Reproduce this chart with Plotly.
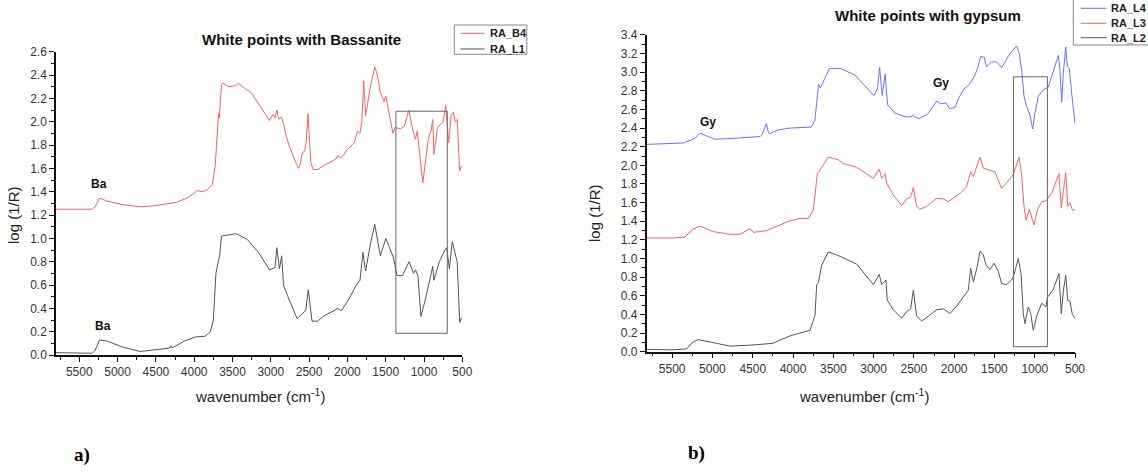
import plotly.graph_objects as go

# ---------------- data: panel a (White points with Bassanite) ----------------
wn_b4 = [5804, 5600, 5450, 5331, 5293, 5235, 5139, 4946, 4705, 4512, 4223, 4078, 3957, 3909, 3837, 3764,
         3726, 3702, 3692, 3682, 3673, 3644, 3629, 3547, 3451, 3427, 3330, 3258, 3137, 3017, 2969, 2945,
         2921, 2896, 2863, 2834, 2800, 2752, 2679, 2641, 2621, 2593, 2554, 2535, 2515, 2496, 2477, 2448,
         2390, 2294, 2149, 2125, 2077, 2004, 1908, 1869, 1836, 1811, 1787, 1763, 1700, 1643, 1609, 1570,
         1522, 1498, 1450, 1406, 1377, 1305, 1257, 1199, 1146, 1112, 1088, 1016, 944, 905, 886, 871, 823,
         751, 717, 678, 645, 616, 592, 567, 534, 510]
ra_b4 = [1.25, 1.252, 1.25, 1.25, 1.27, 1.345, 1.32, 1.29, 1.27, 1.28, 1.31, 1.35, 1.41, 1.40, 1.41, 1.46,
         1.62, 1.90, 2.02, 2.07, 2.03, 2.31, 2.33, 2.30, 2.31, 2.33, 2.28, 2.25, 2.13, 2.01, 2.06, 2.03,
         2.10, 2.02, 2.04, 1.99, 1.875, 1.78, 1.66, 1.60, 1.62, 1.72, 1.76, 1.85, 2.07, 1.85, 1.65, 1.59,
         1.59, 1.63, 1.68, 1.71, 1.69, 1.76, 1.82, 1.92, 1.90, 2.00, 2.35, 2.05, 2.30, 2.47, 2.40, 2.25,
         2.17, 2.22, 2.05, 1.90, 1.95, 1.94, 1.96, 2.10, 1.93, 1.85, 1.92, 1.475, 1.85, 1.93, 2.02, 1.72, 1.95,
         2.00, 2.14, 1.82, 2.05, 2.08, 2.00, 2.02, 1.58, 1.62]

wn_l1 = [5804, 5600, 5450, 5331, 5293, 5235, 5139, 4946, 4705, 4512, 4319, 4304, 4290, 4126, 3981, 3861,
         3789, 3750, 3716, 3692, 3668, 3644, 3451, 3306, 3162, 3017, 2945, 2921, 2887, 2858, 2834, 2776,
         2655, 2583, 2544, 2511, 2462, 2390, 2294, 2173, 2135, 2077, 1980, 1884, 1836, 1797, 1763, 1700,
         1643, 1570, 1498, 1450, 1401, 1353, 1281, 1194, 1136, 1112, 1079, 1040, 992, 919, 886, 871, 799,
         727, 703, 669, 631, 597, 567, 534, 510]
ra_l1 = [0.02, 0.018, 0.015, 0.015, 0.04, 0.13, 0.12, 0.07, 0.03, 0.045, 0.06, 0.08, 0.06, 0.12, 0.155, 0.16,
         0.20, 0.30, 0.70, 0.78, 0.85, 1.02, 1.04, 0.99, 0.88, 0.73, 0.75, 0.92, 0.74, 0.85, 0.60, 0.50,
         0.31, 0.36, 0.38, 0.56, 0.29, 0.29, 0.34, 0.38, 0.40, 0.38, 0.48, 0.60, 0.64, 0.88, 0.72, 0.95,
         1.12, 0.85, 1.00, 0.92, 0.84, 0.68, 0.68, 0.80, 0.70, 0.73, 0.68, 0.33, 0.45, 0.66, 0.76, 0.64, 0.80,
         0.90, 0.92, 0.74, 0.97, 0.88, 0.80, 0.28, 0.32]

# ---------------- data: panel b (White points with gypsum) ----------------
wn_l4 = [5816, 5600, 5355, 5220, 5152, 5084, 4971, 4723, 4406, 4384, 4361, 4330, 4307, 4294, 4181, 4045,
         3774, 3729, 3697, 3684, 3661, 3548, 3413, 3232, 3051, 2997, 2952, 2925, 2893, 2857, 2826, 2735,
         2600, 2532, 2518, 2442, 2329, 2216, 2171, 2103, 2058, 1990, 1945, 1877, 1809, 1741, 1705, 1671,
         1629, 1596, 1534, 1472, 1410, 1307, 1224, 1192, 1162, 1133, 1100, 1059, 1025, 997, 956, 894, 832,
         777, 707, 686, 665, 645, 615, 596, 571, 541, 500]
ra_l4 = [2.225, 2.23, 2.24, 2.29, 2.345, 2.32, 2.28, 2.29, 2.31, 2.33, 2.38, 2.45, 2.36, 2.34, 2.38, 2.40,
         2.41, 2.48, 2.75, 2.87, 2.83, 3.04, 3.04, 2.97, 2.80, 2.75, 2.82, 3.05, 2.75, 2.98, 2.65, 2.56,
         2.52, 2.52, 2.54, 2.50, 2.55, 2.69, 2.66, 2.67, 2.61, 2.62, 2.72, 2.82, 2.87, 2.97, 3.05, 3.17,
         3.16, 3.06, 3.11, 3.11, 3.05, 3.20, 3.28, 3.20, 3.02, 2.74, 2.63, 2.54, 2.39, 2.56, 2.74, 2.81, 2.84,
         3.00, 3.18, 3.02, 2.68, 2.99, 3.27, 3.06, 3.04, 2.77, 2.45]

wn_l3 = [5816, 5500, 5341, 5250, 5154, 5000, 4782, 4658, 4534, 4493, 4327, 4162, 4037, 3913, 3810, 3748,
         3698, 3665, 3562, 3438, 3376, 3210, 3003, 2929, 2900, 2858, 2837, 2755, 2652, 2589, 2540, 2507,
         2465, 2424, 2341, 2217, 2134, 2073, 1927, 1845, 1795, 1762, 1720, 1679, 1638, 1576, 1493, 1410,
         1348, 1266, 1195, 1162, 1133, 1108, 1067, 1038, 1009, 968, 913, 860, 789, 699, 670, 645, 615, 590,
         562, 533, 500]
ra_l3 = [1.22, 1.22, 1.23, 1.31, 1.35, 1.29, 1.26, 1.26, 1.32, 1.28, 1.30, 1.36, 1.405, 1.43, 1.43, 1.52,
         1.91, 1.95, 2.09, 2.06, 2.02, 1.98, 1.86, 1.96, 1.86, 1.91, 1.81, 1.68, 1.57, 1.64, 1.66, 1.76,
         1.56, 1.53, 1.56, 1.645, 1.64, 1.61, 1.70, 1.77, 1.93, 1.88, 2.00, 2.09, 1.97, 1.95, 1.93, 1.75,
         1.82, 1.90, 2.09, 1.90, 1.56, 1.41, 1.53, 1.45, 1.36, 1.52, 1.61, 1.62, 1.70, 1.91, 1.54, 1.72, 1.92, 1.56,
         1.60, 1.52, 1.52]

wn_l2 = [5816, 5500, 5320, 5250, 5176, 5000, 4782, 4534, 4245, 4162, 4037, 3913, 3789, 3727, 3706, 3685,
         3644, 3562, 3459, 3334, 3210, 3003, 2929, 2900, 2846, 2830, 2755, 2652, 2589, 2540, 2507, 2465,
         2403, 2321, 2217, 2134, 2052, 1969, 1865, 1824, 1795, 1762, 1720, 1679, 1638, 1604, 1555, 1505,
         1451, 1410, 1348, 1286, 1266, 1204, 1170, 1142, 1121, 1080, 1050, 1018, 977, 913, 860, 844, 769,
         699, 670, 645, 615, 590, 562, 533, 500]
ra_l2 = [0.025, 0.02, 0.03, 0.10, 0.13, 0.10, 0.06, 0.07, 0.09, 0.125, 0.17, 0.20, 0.23, 0.39, 0.72, 0.74,
         0.93, 1.07, 1.04, 0.99, 0.94, 0.72, 0.83, 0.72, 0.77, 0.555, 0.45, 0.36, 0.43, 0.46, 0.66, 0.38,
         0.33, 0.38, 0.45, 0.46, 0.41, 0.49, 0.61, 0.66, 0.895, 0.75, 0.89, 1.08, 1.04, 0.93, 0.88, 0.95,
         0.86, 0.73, 0.72, 0.77, 0.80, 1.00, 0.84, 0.41, 0.30, 0.48, 0.41, 0.23, 0.38, 0.52, 0.48, 0.58, 0.67,
         0.84, 0.41, 0.65, 0.82, 0.55, 0.54, 0.40, 0.36]

names_a = ["RA_B4", "RA_L1"]
names_b = ["RA_L4", "RA_L3", "RA_L2"]

# ---------------- figure ----------------
W, H = 1148, 473
RED = "#f06464"
BLUE = "#6e6eff"
GRAY = "#555555"
SANS = "Liberation Sans, Arial, sans-serif"

series = [
    (wn_b4, ra_b4, names_a[0], RED, "x", "y"),
    (wn_l1, ra_l1, names_a[1], GRAY, "x", "y"),
    (wn_l4, ra_l4, names_b[0], BLUE, "x2", "y2"),
    (wn_l3, ra_l3, names_b[1], RED, "x2", "y2"),
    (wn_l2, ra_l2, names_b[2], GRAY, "x2", "y2"),
]

fig = go.Figure()
for xs, ys, nm, col, xa, ya in series:
    fig.add_trace(go.Scatter(x=xs, y=ys, name=nm, mode="lines", showlegend=False,
                             line=dict(color=col, width=1), xaxis=xa, yaxis=ya))

def px(x):
    return x / W

def py(y):
    return 1 - y / H

tickfont = dict(family=SANS, size=12, color="#333333")
common_x = dict(showline=True, linecolor="#111111", linewidth=1.5, ticks="outside", ticklen=5,
                tickwidth=1.2, tickcolor="#111111", showgrid=False, zeroline=False, dtick=500, tick0=0,
                tickfont=tickfont,
                minor=dict(ticks="outside", ticklen=3, dtick=250, tickcolor="#111111", showgrid=False))
common_y = dict(showline=True, linecolor="#111111", linewidth=1.5, ticks="outside", ticklen=5,
                tickwidth=1.2, tickcolor="#111111", showgrid=False, zeroline=False, dtick=0.2, tick0=0,
                tickformat=".1f", tickfont=tickfont,
                minor=dict(ticks="outside", ticklen=3, dtick=0.1, tickcolor="#111111", showgrid=False))

fig.update_layout(
    width=W, height=H,
    margin=dict(l=0, r=0, t=0, b=0, pad=0, autoexpand=False),
    paper_bgcolor="white", plot_bgcolor="white",
    font=dict(family=SANS, color="#222222"),
    showlegend=False,
    xaxis=dict(domain=[px(56), px(462.3)], range=[5804, 500], anchor="y", **common_x),
    yaxis=dict(domain=[py(355), py(51.7)], range=[0, 2.6], anchor="x", **common_y),
    xaxis2=dict(domain=[px(646.7), px(1075)], range=[5816, 500], anchor="y2", **common_x),
    yaxis2=dict(domain=[py(351.7), py(34.9)], range=[0, 3.4], anchor="x2", **common_y),
)

shapes = []
# inset rectangles
shapes.append(dict(type="rect", xref="x", yref="y", x0=1367, x1=696, y0=0.186, y1=2.09,
                   line=dict(color="#666666", width=1)))
shapes.append(dict(type="rect", xref="x2", yref="y2", x0=1264, x1=842, y0=0.054, y1=2.95,
                   line=dict(color="#666666", width=1)))

ann = []
legfont = dict(family=SANS, size=11, color="#222222", weight="bold")
# legend a
shapes.append(dict(type="rect", xref="paper", yref="paper", x0=px(454.3), x1=px(526.8),
                   y0=py(54.3), y1=py(25), line=dict(color="#888888", width=1)))
for nm, col, yy in zip(names_a, [RED, GRAY], [33.3, 49.0]):
    shapes.append(dict(type="line", xref="paper", yref="paper", x0=px(460.6), x1=px(484.6),
                       y0=py(yy), y1=py(yy), line=dict(color=col, width=1)))
    ann.append(dict(text=nm, x=px(487.6), y=py(yy), xref="paper", yref="paper", showarrow=False,
                    font=legfont, xanchor="left", yanchor="middle"))
# legend b (cut by the right edge of the figure, as in the reference)
shapes.append(dict(type="rect", xref="paper", yref="paper", x0=px(1073.3), x1=px(1160),
                   y0=py(45), y1=py(-3), line=dict(color="#888888", width=1)))
for nm, col, yy in zip(names_b, [BLUE, RED, GRAY], [8.3, 23.3, 37.7]):
    shapes.append(dict(type="line", xref="paper", yref="paper", x0=px(1080.7), x1=px(1106.7),
                       y0=py(yy), y1=py(yy), line=dict(color=col, width=1)))
    ann.append(dict(text=nm, x=px(1109), y=py(yy), xref="paper", yref="paper", showarrow=False,
                    font=legfont, xanchor="left", yanchor="middle"))

bold = dict(family=SANS, size=15, color="#111111", weight="bold")
ann.append(dict(text="White points with Bassanite", x=px(301), y=py(40), xref="paper", yref="paper",
                showarrow=False, font=bold, xanchor="center", yanchor="middle"))
ann.append(dict(text="White points with gypsum", x=px(928), y=py(15.7), xref="paper", yref="paper",
                showarrow=False, font=bold, xanchor="center", yanchor="middle"))
axfont = dict(family=SANS, size=15, color="#222222")
ann.append(dict(text="wavenumber (cm<sup>-1</sup>)", x=px(260), y=py(395), xref="paper", yref="paper",
                showarrow=False, font=axfont, xanchor="center", yanchor="middle"))
ann.append(dict(text="wavenumber (cm<sup>-1</sup>)", x=px(864), y=py(395), xref="paper", yref="paper",
                showarrow=False, font=axfont, xanchor="center", yanchor="middle"))
ann.append(dict(text="log (1/R)", x=px(13), y=py(215), xref="paper", yref="paper", textangle=-90,
                showarrow=False, font=axfont, xanchor="center", yanchor="middle"))
ann.append(dict(text="log (1/R)", x=px(594), y=py(213), xref="paper", yref="paper", textangle=-90,
                showarrow=False, font=axfont, xanchor="center", yanchor="middle"))
lab = dict(family="Liberation Serif, Times New Roman, serif", size=19, color="#000000", weight="bold")
ann.append(dict(text="a)", x=px(82), y=py(455), xref="paper", yref="paper",
                showarrow=False, font=lab, xanchor="center", yanchor="middle"))
ann.append(dict(text="b)", x=px(696), y=py(453), xref="paper", yref="paper",
                showarrow=False, font=lab, xanchor="center", yanchor="middle"))
small = dict(family=SANS, size=12, color="#111111", weight="bold")
ann.append(dict(text="Ba", x=5243, y=1.463, xref="x", yref="y", showarrow=False, font=small))
ann.append(dict(text="Ba", x=5190, y=0.249, xref="x", yref="y", showarrow=False, font=small))
ann.append(dict(text="Gy", x=5057, y=2.47, xref="x2", yref="y2", showarrow=False, font=small))
ann.append(dict(text="Gy", x=2162, y=2.88, xref="x2", yref="y2", showarrow=False, font=small))

fig.update_layout(shapes=shapes, annotations=ann)

fig.write_html("out.html")
